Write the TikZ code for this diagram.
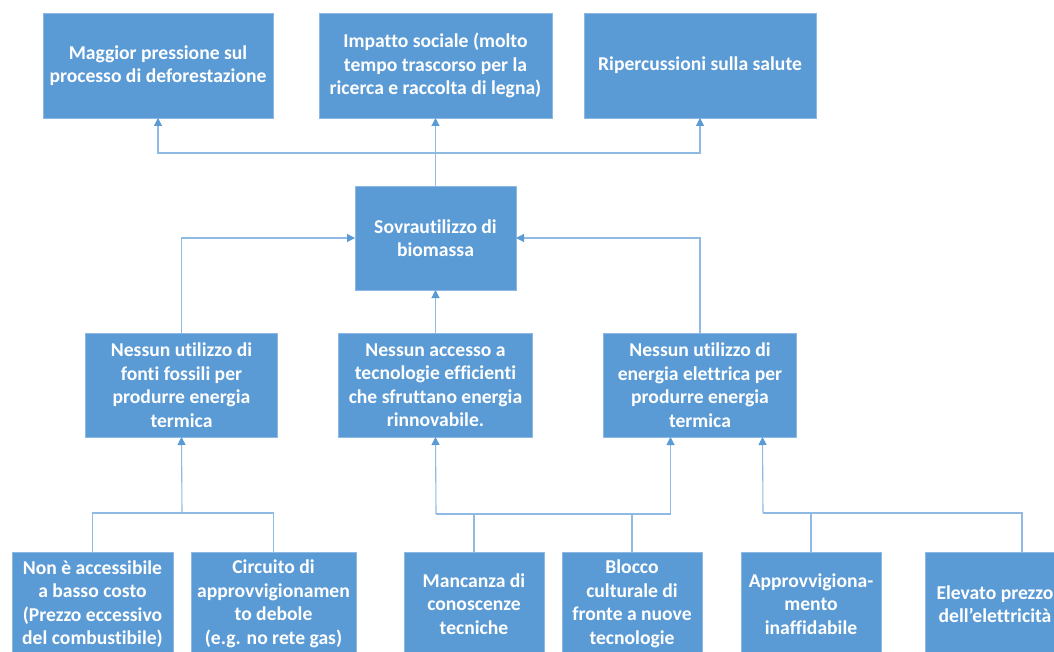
\documentclass[tikz,border=0pt]{standalone}
\usepackage{fontspec}
\setmainfont{Carlito}[Ligatures=NoCommon]
\usepackage{xcolor}
\usetikzlibrary{shapes,arrows.meta,positioning,calc}
\definecolor{boxblue}{HTML}{5B9BD5}
\definecolor{boxedge}{HTML}{8DB8E3}
\definecolor{linkblue}{HTML}{8FBAE4}

\begin{document}
\begin{tikzpicture}[
    x=1pt, y=-1pt,
    every node/.style={font=\fontsize{19.6}{23.5}\selectfont\bfseries},
    effect/.style={rectangle, draw=boxedge, line width=0.6pt, fill=boxblue, text=white, minimum height=105pt, inner sep=0pt, outer sep=0pt, align=center},
    cause/.style={rectangle, draw=boxedge, line width=0.6pt, fill=boxblue, text=white, minimum height=104pt, inner sep=0pt, outer sep=0pt, align=center},
    link/.style={draw=linkblue, line width=1.1pt},
    arrow/.style={link, -{Triangle[length=8pt,width=8pt,color=boxblue]}}
]
\useasboundingbox (0,0) rectangle (1054,652);
\clip (0,0) rectangle (1054,652);
\fill[white] (0,0) rectangle (1054,652);

% Top row: effects
\node[effect, minimum width=233pt] (social) at (435.5,65.5) {Impatto sociale (molto\\tempo trascorso per la\\ricerca e raccolta di legna)};
\node[effect, minimum width=230pt, left=46pt of social] (defor) {Maggior pressione sul\\processo di deforestazione};
\node[effect, minimum width=232pt, right=32pt of social] (health) {Ripercussioni sulla salute};

% Core problem
\node[cause, minimum width=161pt, below=68pt of social] (over) {Sovrautilizzo di\\biomassa};

% Middle row: direct causes
\node[cause, minimum width=194pt, below=43pt of over] (access) {Nessun accesso a\\tecnologie efficienti\\che sfruttano energia\\rinnovabile.};
\node[cause, minimum width=192pt, left=61pt of access] (fossil) {Nessun utilizzo di\\fonti fossili per\\produrre energia\\termica};
\node[cause, minimum width=193pt, right=71pt of access] (elec) {Nessun utilizzo di\\energia elettrica per\\produrre energia\\termica};

% Bottom row: root causes
\node[cause, minimum width=161pt] (cost) at (92.5,604) {Non è accessibile\\a basso costo\\(Prezzo eccessivo\\del combustibile)};
\node[cause, minimum width=165pt, right=18pt of cost] (supply) {Circuito di\\approvvigionamen\\to debole\\(e.g. no rete gas)};
\node[cause, minimum width=140pt, right=48pt of supply] (know) {Mancanza di\\conoscenze\\tecniche};
\node[cause, minimum width=140pt, right=18pt of know] (culture) {Blocco\\culturale di\\fronte a nuove\\tecnologie};
\node[cause, minimum width=140pt, right=39pt of culture] (unrel) {Approvvigiona-\\mento\\inaffidabile};
\node[cause, minimum width=140pt, right=44pt of unrel] (price) {Elevato prezzo\\dell’elettricità};

% Junctions
\coordinate (topbus) at (435.5,153);
\coordinate (busA) at (182,513);
\coordinate (busB) at (436,514);
\coordinate (busC) at (763,513);
\coordinate (elecL) at ([xshift=-29.5pt]elec.south);
\coordinate (elecR) at ([xshift=62.5pt]elec.south);
\coordinate (priceT) at ([xshift=27pt]price.north);

% Arrows
\draw[arrow] (over) -- (social);
\draw[arrow] (topbus) -| (defor.south);
\draw[arrow] (topbus) -| (health.south);
\draw[arrow] (fossil.north) |- (over.west);
\draw[arrow] (elec.north) |- (over.east);
\draw[arrow] (access) -- (over);

\draw[arrow] (busA) -- (fossil.south);
\draw[link] (cost.north) |- (busA) -| (supply.north);

\draw[arrow] (busB) -- (access.south);
\draw[arrow] (busB) -| (elecL);
\draw[link] (know.north) -- (know.north |- busB);
\draw[link] (culture.north) -- (culture.north |- busB);

\draw[arrow] (busC) -- (elecR);
\draw[link] (busC) -| (priceT);
\draw[link] (unrel.north) -- (unrel.north |- busC);

\end{tikzpicture}
\end{document}
